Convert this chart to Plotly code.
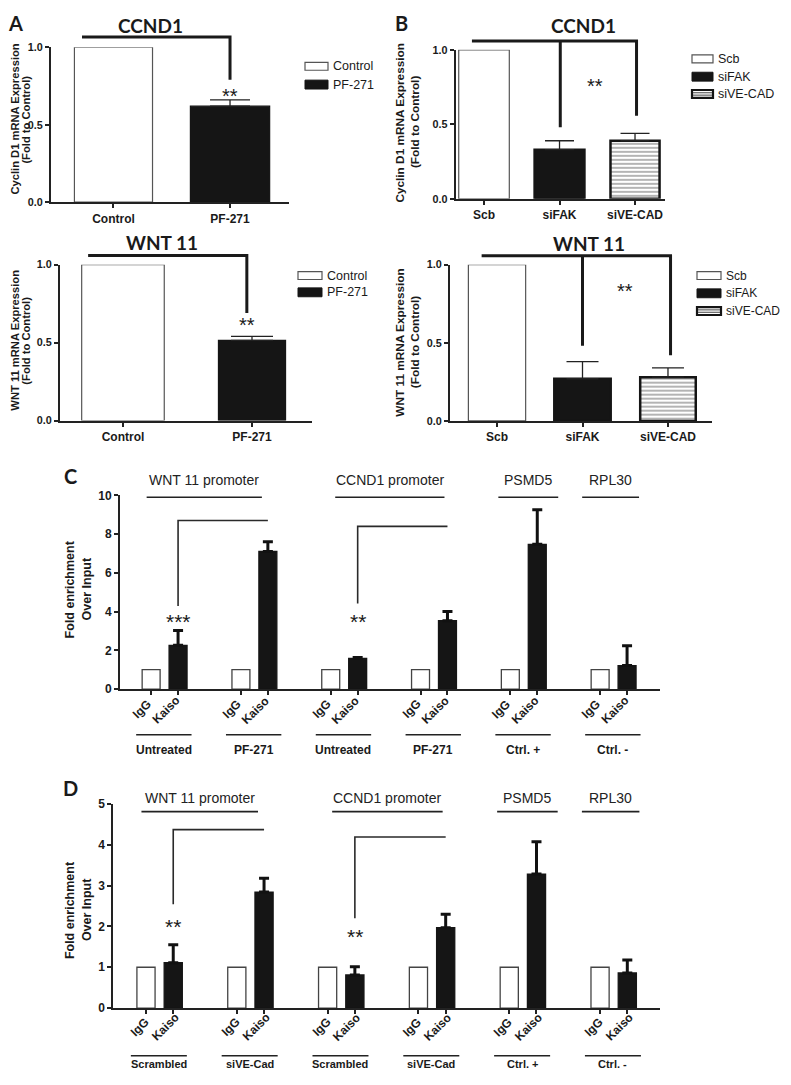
import plotly.graph_objects as go

# ---------------- data ----------------
a_groups = ["Control", "PF-271"]
a_ccnd1 = [1.0, 0.62]
a_ccnd1_err = [0.0, 0.04]
a_wnt11 = [1.0, 0.515]
a_wnt11_err = [0.0, 0.025]

b_groups = ["Scb", "siFAK", "siVE-CAD"]
b_ccnd1 = [1.0, 0.33, 0.39]
b_ccnd1_err = [0.0, 0.06, 0.05]
b_wnt11 = [1.0, 0.27, 0.28]
b_wnt11_err = [0.0, 0.11, 0.06]

chip_ab = ["IgG", "Kaiso"]
promoters = ["WNT 11 promoter", "CCND1 promoter", "PSMD5", "RPL30"]
c_conditions = ["Untreated", "PF-271", "Untreated", "PF-271", "Ctrl. +", "Ctrl. -"]
c_igg = [1, 1, 1, 1, 1, 1]
c_kaiso = [2.26, 7.1, 1.58, 3.53, 7.47, 1.21]
c_kaiso_err = [0.76, 0.5, 0.05, 0.47, 1.79, 1.02]
d_conditions = ["Scrambled", "siVE-Cad", "Scrambled", "siVE-Cad", "Ctrl. +", "Ctrl. -"]
d_igg = [1, 1, 1, 1, 1, 1]
d_kaiso = [1.11, 2.84, 0.81, 1.97, 3.28, 0.86]
d_kaiso_err = [0.44, 0.34, 0.20, 0.33, 0.79, 0.32]

# ---------------- geometry ----------------
PAGE_W, PAGE_H = 791, 1085
OFF = 8                      # default body margin of the html page
W, H = PAGE_W - 2 * OFF, PAGE_H - 2 * OFF
AR = "Liberation Sans"
CAL = "Lato"
INK = "#1a1a1a"
AXC = "#222222"

panels = {
    "A1": dict(n="", px=(51, 289), py=(197.7, 40.7), xr=(-0.536, 1.506), yr=(0, 1.0)),
    "A2": dict(n="2", px=(60, 312), py=(419, 261), xr=(-0.488, 1.465), yr=(0, 1.0)),
    "B1": dict(n="3", px=(455.7, 665), py=(194.3, 43.3), xr=(-0.375, 2.397), yr=(0, 1.0)),
    "B2": dict(n="4", px=(450, 712), py=(419.3, 261), xr=(-0.55, 2.515), yr=(0, 1.0)),
    "C": dict(n="5", px=(120, 660), py=(691, 494.7), xr=(-1.04, 17.0), yr=(0, 10)),
    "D": dict(n="6", px=(113.3, 660), py=(1014.3, 807.3), xr=(-1.08, 16.98), yr=(0, 5)),
}


def fx(X):
    return (X - OFF) / W


def fy(Y):
    return 1 - (Y - OFF) / H


def to_px(p, x, y):
    g = panels[p]
    X = g["px"][0] + (x - g["xr"][0]) / (g["xr"][1] - g["xr"][0]) * (g["px"][1] - g["px"][0])
    Y = g["py"][0] + (y - g["yr"][0]) / (g["yr"][1] - g["yr"][0]) * (g["py"][1] - g["py"][0])
    return X, Y


fig = go.Figure()
shapes = []
annots = []
layout_axes = {}


def add_text(X, Y, text, size, family=AR, bold=False, color=INK, xanchor="center",
             yanchor="middle", angle=0):
    annots.append(dict(x=fx(X), y=fy(Y), xref="paper", yref="paper", text=text,
                       showarrow=False, textangle=angle,
                       font=dict(family=family, size=size, color=color,
                                 weight="bold" if bold else "normal"),
                       xanchor=xanchor, yanchor=yanchor))


def add_line(X0, Y0, X1, Y1, width, color=AXC):
    shapes.append(dict(type="line", xref="paper", yref="paper", x0=fx(X0), y0=fy(Y0),
                       x1=fx(X1), y1=fy(Y1), line=dict(color=color, width=width)))


def add_path(p, pts_list, width, color=INK):
    d = ""
    for pts in pts_list:
        for i, (x, y) in enumerate(pts):
            X, Y = to_px(p, x, y)
            d += ("M" if i == 0 else "L") + f"{fx(X):.5f},{fy(Y):.5f} "
    shapes.append(dict(type="path", xref="paper", yref="paper", path=d.strip(),
                       line=dict(color=color, width=width)))


def add_rect(X0, Y0, X1, Y1, fill, lc, lw):
    shapes.append(dict(type="rect", xref="paper", yref="paper", x0=fx(X0), y0=fy(Y0),
                       x1=fx(X1), y1=fy(Y1), fillcolor=fill, line=dict(color=lc, width=lw)))


def star(p, x, y, text, size=20):
    X, Y = to_px(p, x, y)
    add_text(X, Y + 0.23 * size, text, size, family=AR)


def ytitle(xs, yc, lines, size):
    for X, t in zip(xs, lines):
        add_text(X, yc, t, size, bold=True, angle=-90)


def axes(p, xticks, xtext, yticks, ytext, xfs=12, yfs=10.8):
    g = panels[p]
    n = g["n"]
    common = dict(showline=True, linecolor=AXC, linewidth=2, ticks="outside", ticklen=4,
                  tickwidth=1.6, tickcolor=AXC, showgrid=False, zeroline=False,
                  fixedrange=True)
    layout_axes["xaxis" + n] = dict(domain=[fx(g["px"][0]), fx(g["px"][1])],
                                    range=list(g["xr"]), anchor="y" + n,
                                    tickmode="array", tickvals=xticks, ticktext=xtext,
                                    tickangle=0,
                                    tickfont=dict(family=AR, size=xfs, color=INK, weight="bold"),
                                    **common)
    layout_axes["yaxis" + n] = dict(domain=[fy(g["py"][0]), fy(g["py"][1])],
                                    range=list(g["yr"]), anchor="x" + n,
                                    tickmode="array", tickvals=yticks, ticktext=ytext,
                                    tickfont=dict(family=AR, size=yfs, color=INK, weight="bold"),
                                    **common)


def bar(p, x, v, err, fill, lc, lw, width, err_half, err_thick, err_col, pattern=None):
    n = panels[p]["n"]
    kw = dict(x=[x], y=[v], width=[width], showlegend=False, hoverinfo="skip",
              xaxis="x" + n, yaxis="y" + n,
              marker=dict(color=fill, line=dict(color=lc, width=lw)))
    if pattern:
        kw["marker"]["pattern"] = pattern
    if err and err > 0:
        kw["error_y"] = dict(type="data", array=[err], arrayminus=[0], symmetric=False,
                             color=err_col, thickness=err_thick, width=err_half)
    fig.add_trace(go.Bar(**kw))


STRIPE = dict(shape="-", size=4, solidity=0.38, fgcolor="#3a3a3a", bgcolor="white")
yt01 = [0, 0.5, 1.0]
ytx01 = ["0.0", "0.5", "1.0"]


def legend(items, X0, X1, ycs, tx, fs=12.5):
    for (label, kind), yc in zip(items, ycs):
        if kind == "white":
            add_rect(X0, yc - 4, X1, yc + 4, "white", "#555555", 1.2)
        elif kind == "black":
            add_rect(X0, yc - 4.5, X1, yc + 4.5, "#151515", "#151515", 1)
        else:
            add_rect(X0, yc - 4, X1, yc + 4, "white", "#151515", 2.2)
            add_line(X0 + 1, yc - 1.2, X1 - 1, yc - 1.2, 1, "#444")
            add_line(X0 + 1, yc + 1.2, X1 - 1, yc + 1.2, 1, "#444")
        add_text(tx, yc, label, fs, family=AR, xanchor="left")


# ---------------- Panel A ----------------
a_widths1 = [0.67, 0.68]
for i, (v, e) in enumerate(zip(a_ccnd1, a_ccnd1_err)):
    fill, lc = ("white", "#555555") if i == 0 else ("#151515", "#151515")
    bar("A1", i, v, e, fill, lc, 1.2, a_widths1[i], 20, 1.3, "#222")
axes("A1", [0, 1], a_groups, yt01, ytx01)
add_path("A1", [[(-0.27, 1.066), (1.0, 1.066), (1.0, 0.79)]], 3)
star("A1", 1.0, 0.715, "**")
add_text(150, 19, "<b>CCND1</b>", 19, family=CAL)
ytitle([15, 26], 114, ["Cyclin D1 mRNA Expression", "(Fold to Control)"], 11.2)
legend([("Control", "white"), ("PF-271", "black")], 305, 328, [60, 78.5], 331)

a_widths2 = [0.64, 0.52]
for i, (v, e) in enumerate(zip(a_wnt11, a_wnt11_err)):
    fill, lc = ("white", "#555555") if i == 0 else ("#151515", "#151515")
    bar("A2", i, v, e, fill, lc, 1.2, a_widths2[i], 21, 1.3, "#222")
axes("A2", [0, 1], a_groups, yt01, ytx01)
add_path("A2", [[(-0.27, 1.059), (0.96, 1.059), (0.96, 0.69)]], 3)
star("A2", 0.96, 0.64, "**")
add_text(162, 239, "<b>WNT 11</b>", 19, family=CAL)
ytitle([15, 26], 338, ["WNT 11 mRNA Expression", "(Fold to Control)"], 11.2)
legend([("Control", "white"), ("PF-271", "black")], 298, 322, [272, 289], 325)


# ---------------- Panel B ----------------
def b_panel(p, vals, errs, err_half):
    for i, (v, e) in enumerate(zip(vals, errs)):
        if i == 0:
            bar(p, i, v, e, "white", "#555555", 1.2, 0.67, err_half, 1.3, "#222")
        elif i == 1:
            bar(p, i, v, e, "#151515", "#151515", 2.5, 0.66, err_half, 1.3, "#222")
        else:
            bar(p, i, v, e, "white", "#151515", 2.5, 0.65, err_half, 1.3, "#222",
                pattern=STRIPE)
    axes(p, [0, 1, 2], b_groups, yt01, ytx01)


b_panel("B1", b_ccnd1, b_ccnd1_err, 14.5)
add_path("B1", [[(-0.16, 1.06), (2.02, 1.06), (2.02, 0.558)], [(1.01, 1.06), (1.01, 0.48)]], 3)
star("B1", 1.47, 0.79, "**")
add_text(583, 19, "<b>CCND1</b>", 19, family=CAL)
ytitle([400, 414.5], 117, ["Cyclin D1 mRNA Expression", "(Fold to Control)"], 11.8)
legend([("Scb", "white"), ("siFAK", "black"), ("siVE-CAD", "stripe")], 692, 713,
       [52.5, 70.5, 88], 716)

b_panel("B2", b_wnt11, b_wnt11_err, 16)
add_path("B2", [[(-0.18, 1.057), (2.03, 1.057), (2.03, 0.42)], [(1.0, 1.057), (1.0, 0.481)]], 3)
star("B2", 1.5, 0.86, "**")
add_text(589, 240, "<b>WNT 11</b>", 19, family=CAL)
ytitle([400, 414.5], 340, ["WNT 11 mRNA Expression", "(Fold to Control)"], 11.8)
legend([("Scb", "white"), ("siFAK", "black"), ("siVE-CAD", "stripe")], 697, 721,
       [272, 290, 308], 724, fs=12)

# ---------------- Panels C / D ----------------
title_spans = [(-0.15, 3.7), (6.15, 9.8), (11.6, 13.6), (14.4, 16.3)]


def chip_panel(p, igg, kaiso, kerr, conds, yticks, title_line_y, title_text_y,
               brackets, stars, line_y, text_y, cond_fs, lab_off):
    xs_igg = [3 * g for g in range(len(igg))]
    xs_k = [3 * g + 0.9 for g in range(len(kaiso))]
    for x, v in zip(xs_igg, igg):
        bar(p, x, v, 0, "white", "#444444", 1.3, 0.6, 5, 3, "#111")
    for x, v, e in zip(xs_k, kaiso, kerr):
        bar(p, x, v, e, "#151515", "#151515", 1.3, 0.6, 5, 3, "#111")
    tv = []
    for a, b in zip(xs_igg, xs_k):
        tv += [a, b]
    axes(p, tv, [""] * len(tv), yticks, [str(t) for t in yticks], yfs=12)
    # rotated IgG / Kaiso labels
    ybase = panels[p]["py"][0]
    for a, b in zip(xs_igg, xs_k):
        for xv, lab, (dx, dy) in zip((a, b), chip_ab, lab_off):
            X, _ = to_px(p, xv, 0)
            add_text(X + dx, ybase + dy, lab, 12, bold=True, angle=-45)
    # promoter titles
    for (s0, s1), name in zip(title_spans, promoters):
        X0, Y = to_px(p, s0, title_line_y)
        X1, _ = to_px(p, s1, title_line_y)
        add_line(X0, Y, X1, Y, 1.6)
        _, Yt = to_px(p, 0, title_text_y)
        add_text((X0 + X1) / 2, Yt, name, 14, family=AR, color="#222")
    # condition labels
    for g, cond in enumerate(conds):
        X0, _ = to_px(p, 3 * g - 0.5, 0)
        X1, _ = to_px(p, 3 * g + 1.35, 0)
        add_line(X0, line_y, X1, line_y, 1.6)
        add_text((X0 + X1) / 2, text_y, cond, cond_fs, bold=True)
    for pts in brackets:
        add_path(p, [pts], 1.6, "#2a2a2a")
    for x, y, t in stars:
        star(p, x, y, t, 21)


chip_panel("C", c_igg, c_kaiso, c_kaiso_err, c_conditions, [0, 2, 4, 6, 8, 10],
           9.9, 10.8,
           [[(3.9, 8.7), (0.9, 8.7), (0.9, 4.29)], [(9.9, 8.4), (6.9, 8.4), (6.9, 4.42)]],
           [(0.9, 3.73, "***"), (6.9, 3.73, "**")], 737.3, 752.7, 12,
           [(-9, 20.5), (-12, 21.5)])
add_text(71, 475, "<b>C</b>", 20, family=CAL)
ytitle([70, 87], 590, ["Fold enrichment", "Over Input"], 12.5)

chip_panel("D", d_igg, d_kaiso, d_kaiso_err, d_conditions, [0, 1, 2, 3, 4, 5],
           4.81, 5.15,
           [[(3.9, 4.37), (0.9, 4.37), (0.9, 2.54)], [(9.9, 4.19), (6.9, 4.19), (6.9, 2.2)]],
           [(0.9, 2.12, "**"), (6.9, 1.87, "**")], 1062.5, 1071, 11,
           [(-6, 19.5), (-8, 19)])
add_text(70, 791, "<b>D</b>", 20, family=CAL)
ytitle([70, 87], 915, ["Fold enrichment", "Over Input"], 12.5)

# panel letters A / B
add_text(15, 16, "<b>A</b>", 20, family=CAL)
add_text(401, 16, "<b>B</b>", 20, family=CAL)

fig.update_layout(width=W, height=H, margin=dict(l=0, r=0, t=0, b=0),
                  paper_bgcolor="white", plot_bgcolor="white", barmode="overlay",
                  showlegend=False, shapes=shapes, annotations=annots, **layout_axes)

fig.write_html("out.html")
